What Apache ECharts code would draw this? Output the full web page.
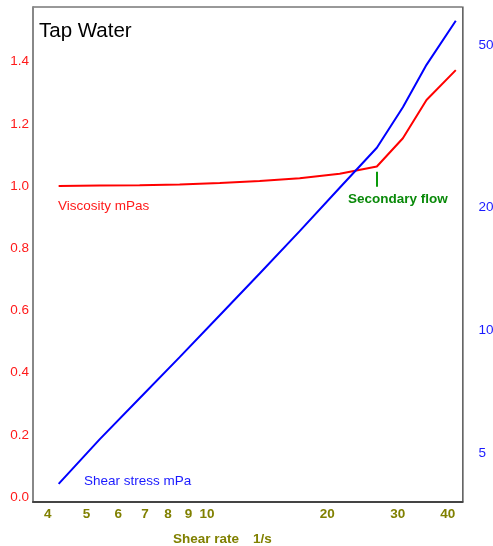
<!DOCTYPE html>
<html>
<head>
<meta charset="utf-8">
<title>Tap Water</title>
<script src="https://cdn.jsdelivr.net/npm/echarts@6/dist/echarts.min.js"></script>
<style>
  html, body { margin: 0; padding: 0; background: #fff; }
  #chart { width: 493px; height: 546px; }
</style>
</head>
<body>
<div id="chart"></div>
<script>
// Shear rate in 1/s
const shearRate = [4.26, 5.40, 6.79, 8.55, 10.77, 13.55, 17.06, 21.48, 26.6, 30.9, 35.4, 41.9];
// Viscosity in mPas (left axis)
const viscosity = [1.000, 1.002, 1.003, 1.005, 1.010, 1.016, 1.025, 1.040, 1.063, 1.154, 1.277, 1.373];
// Shear stress in mPa (right axis, logarithmic)
const shearStress = [4.20, 5.41, 6.81, 8.59, 10.88, 13.77, 17.49, 22.34, 28.0, 35.2, 44.7, 57.3];

// Tick labels
const rateTicks = [4, 5, 6, 7, 8, 9, 10, 20, 30, 40];
const viscosityTicks = [0, 0.2, 0.4, 0.6, 0.8, 1.0, 1.2, 1.4];
const stressTicks = [5, 10, 20, 50];

// Onset of secondary flow
const secondaryFlowRate = 26.6;

const lg = Math.log10;
const FONT = '"Liberation Sans", Arial, sans-serif';

const chart = echarts.init(document.getElementById('chart'), null, { renderer: 'canvas' });

chart.setOption({
  animation: false,
  backgroundColor: '#ffffff',
  grid: {
    left: 33, right: 30.5, top: 7, bottom: 44,
    outerBoundsMode: 'none',
    containLabel: false,
    show: true, borderColor: '#333', borderWidth: 1, backgroundColor: 'transparent'
  },
  xAxis: {
    type: 'value',
    min: 0.5653, max: 1.639,
    axisLine: { show: true, onZero: false, lineStyle: { color: '#444', width: 2 } },
    axisTick: { show: false },
    splitLine: { show: false },
    axisLabel: {
      customValues: rateTicks.map(lg),
      formatter: v => String(Math.round(Math.pow(10, v))),
      color: '#808000', fontWeight: 'bold', fontSize: 13.5, fontFamily: FONT, margin: 5
    }
  },
  yAxis: [
    {
      type: 'value',
      min: -0.016, max: 1.576,
      axisLine: { show: true, onZero: false, lineStyle: { color: '#888', width: 2 } },
      axisTick: { show: false },
      splitLine: { show: false },
      axisLabel: {
        customValues: viscosityTicks,
        formatter: v => v.toFixed(1),
        color: '#ff1a1a', fontSize: 13.5, fontFamily: FONT, margin: 4
      }
    },
    {
      type: 'value',
      position: 'right',
      min: 0.579, max: 1.792,
      axisLine: { show: true, onZero: false, lineStyle: { color: '#777', width: 1.5 } },
      axisTick: { show: false },
      splitLine: { show: false },
      axisLabel: {
        customValues: stressTicks.map(lg),
        formatter: v => String(Math.round(Math.pow(10, v))),
        color: '#1a1aff', fontSize: 13.5, fontFamily: FONT, margin: 16
      }
    }
  ],
  series: [
    {
      name: 'Viscosity mPas',
      type: 'line',
      yAxisIndex: 0,
      data: shearRate.map((r, i) => [lg(r), viscosity[i]]),
      showSymbol: false,
      lineStyle: { color: '#ff0000', width: 2 },
      markLine: {
        silent: true,
        symbol: 'none',
        label: { show: false },
        lineStyle: { color: '#0a9a0a', width: 2, type: 'solid' },
        data: [[
          { coord: [lg(secondaryFlowRate), 0.998] },
          { coord: [lg(secondaryFlowRate), 1.046] }
        ]]
      }
    },
    {
      name: 'Shear stress mPa',
      type: 'line',
      yAxisIndex: 1,
      data: shearRate.map((r, i) => [lg(r), lg(shearStress[i])]),
      showSymbol: false,
      lineStyle: { color: '#0000ff', width: 2 }
    }
  ],
  graphic: [
    { type: 'text', x: 39, y: 31, style: { text: 'Tap Water', fill: '#000', font: '20.5px ' + FONT, verticalAlign: 'middle' } },
    { type: 'text', x: 58, y: 206, style: { text: 'Viscosity mPas', fill: '#ff1a1a', font: '13.5px ' + FONT, verticalAlign: 'middle' } },
    { type: 'text', x: 84, y: 481, style: { text: 'Shear stress mPa', fill: '#1a1aff', font: '13.5px ' + FONT, verticalAlign: 'middle' } },
    { type: 'text', x: 348, y: 199, style: { text: 'Secondary flow', fill: '#0a8a0a', font: 'bold 13.5px ' + FONT, verticalAlign: 'middle' } },
    { type: 'text', x: 173, y: 539, style: { text: 'Shear rate', fill: '#808000', font: 'bold 13.5px ' + FONT, verticalAlign: 'middle' } },
    { type: 'text', x: 253, y: 539, style: { text: '1/s', fill: '#808000', font: 'bold 13.5px ' + FONT, verticalAlign: 'middle' } }
  ]
});
</script>
</body>
</html>
